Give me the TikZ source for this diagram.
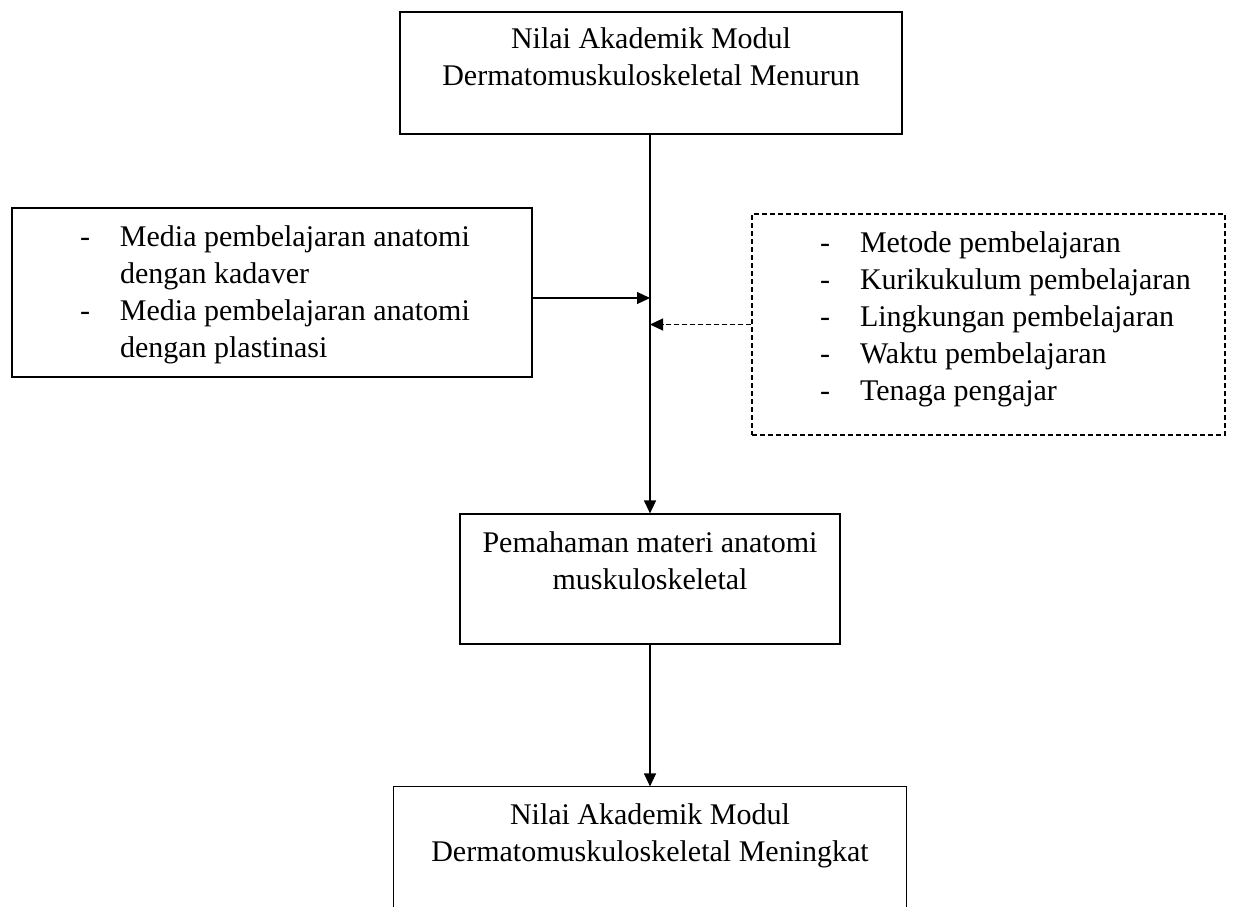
\documentclass[tikz,border=0pt]{standalone}
\usepackage{fontspec}
\setmainfont{Liberation Serif}
\usetikzlibrary{arrows.meta}

\begin{document}
\begin{tikzpicture}[x=1pt, y=-1pt,
  box/.style={shape=rectangle, draw=black, line width=1.2pt, inner sep=0pt, anchor=base, font=\fontsize{30}{37}\selectfont},
  dbox/.style={box, dash pattern=on 5pt off 3pt},
  arr/.style={-{Triangle[length=13pt,width=12pt]}, line width=1.2pt, draw=black}]
\useasboundingbox (0,0) rectangle (1233,906);
% boxes: anchor=base sits on the first text line
\node[box, minimum width=502pt, text height=36pt, text depth=86pt] (top) at (651,48)
  {\begin{tabular}[t]{@{}c@{}}Nilai Akademik Modul\\Dermatomuskuloskeletal Menurun\end{tabular}};
\node[box, minimum width=520pt, text height=38pt, text depth=131pt] (left) at (272,246)
  {\begin{tabular}[t]{@{\hspace{28pt}}p{40pt}@{}p{372pt}@{}}
  -& Media pembelajaran anatomi\\
   & dengan kadaver\\
  -& Media pembelajaran anatomi\\
   & dengan plastinasi
  \end{tabular}};
\node[dbox, minimum width=473pt, text height=38pt, text depth=183pt] (right) at (988.5,252)
  {\begin{tabular}[t]{@{\hspace{48pt}}p{40pt}@{}p{345pt}@{}}
  -& Metode pembelajaran\\
  -& Kurikukulum pembelajaran\\
  -& Lingkungan pembelajaran\\
  -& Waktu pembelajaran\\
  -& Tenaga pengajar
  \end{tabular}};
\node[box, minimum width=380pt, text height=38pt, text depth=92pt] (mid) at (650,552)
  {\begin{tabular}[t]{@{}c@{}}Pemahaman materi anatomi\\muskuloskeletal\end{tabular}};
\node[box, draw=none, minimum width=512pt, text height=37pt, text depth=82pt] (bot) at (650,824)
  {\begin{tabular}[t]{@{}c@{}}Nilai Akademik Modul\\Dermatomuskuloskeletal Meningkat\end{tabular}};
\draw[line width=1.2pt] (bot.south west) -- (bot.north west) -- (bot.north east) -- (bot.south east);
% connectors
\coordinate (jl) at (650,298);
\draw[arr] (top.south -| jl) -- (mid.north -| jl);
\draw[arr] (left.east |- jl) -- (jl);
\draw[arr, dash pattern=on 5pt off 3pt] (right.west) -- (right.west -| jl);
\draw[arr] (mid.south -| jl) -- (bot.north -| jl);
\end{tikzpicture}
\end{document}
